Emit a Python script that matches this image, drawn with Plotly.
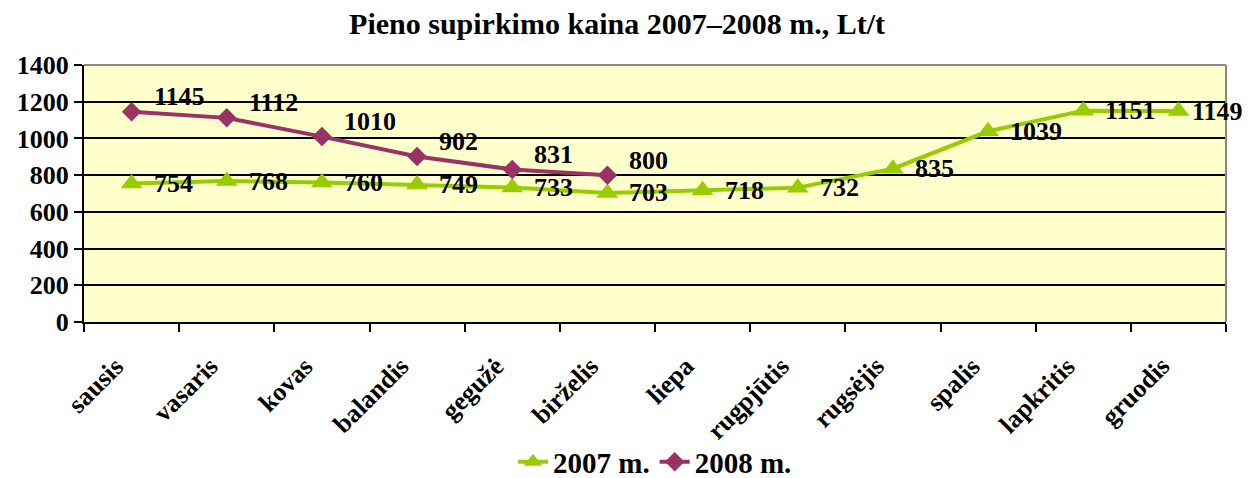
import plotly.graph_objects as go

months = ["sausis", "vasaris", "kovas", "balandis", "gegužė", "birželis",
          "liepa", "rugpjūtis", "rugsėjis", "spalis", "lapkritis", "gruodis"]
y2007 = [754, 768, 760, 749, 733, 703, 718, 732, 835, 1039, 1151, 1149]
y2008 = [1145, 1112, 1010, 902, 831, 800]
yticks = [0, 200, 400, 600, 800, 1000, 1200, 1400]

FONT = "Liberation Serif"
GREEN = "#99CC00"
PURPLE = "#993366"
LBL = dict(family=FONT, size=26, color="black", weight="bold")

fig = go.Figure()
fig.add_trace(go.Scatter(
    x=months, y=y2007, name="2007 m.", mode="lines+markers",
    line=dict(color=GREEN, width=4),
    marker=dict(symbol="triangle-up", size=19, color=GREEN),
    cliponaxis=False,
))
fig.add_trace(go.Scatter(
    x=months[:len(y2008)], y=y2008, name="2008 m.", mode="lines+markers",
    line=dict(color=PURPLE, width=4),
    marker=dict(symbol="diamond", size=15, color=PURPLE),
    cliponaxis=False,
))

annotations = []
for i, (m, v) in enumerate(zip(months, y2007)):
    annotations.append(dict(x=m, y=v, xref="x", yref="y", text=str(v),
                            showarrow=False, xanchor="left", yanchor="middle",
                            xshift=12 if i == len(months) - 1 else 20,
                            yshift=0, font=LBL))
for m, v in zip(months, y2008):
    annotations.append(dict(x=m, y=v, xref="x", yref="y", text=str(v),
                            showarrow=False, xanchor="left", yanchor="middle",
                            xshift=20, yshift=15, font=LBL))
for m in months:
    annotations.append(dict(x=m, y=0, xref="x", yref="paper", text=m,
                            showarrow=False, xanchor="right", yanchor="top",
                            textangle=-45, xshift=0, yshift=-27,
                            font=dict(family=FONT, size=26, color="black", weight="bold")))

# page body has an 8px margin, so the figure is offset by (8, 8)
fig.update_layout(
    width=1248, height=470,
    margin=dict(l=76, r=30, t=57, b=156, autoexpand=False),
    paper_bgcolor="white", plot_bgcolor="#FFFFCC",
    font=dict(family=FONT, color="black"),
    title=dict(text="<b>Pieno supirkimo kaina 2007–2008 m., Lt/t</b>",
               x=0.488, xanchor="center", y=0.968, yanchor="middle",
               font=dict(family=FONT, size=30, color="black")),
    showlegend=True,
    legend=dict(orientation="h", x=0.50, xanchor="center",
                yref="container", y=0.034, yanchor="middle",
                font=dict(family=FONT, size=29, color="black", weight="bold"),
                tracegroupgap=0),
    annotations=annotations,
    shapes=[
        dict(type="line", xref="paper", yref="paper", x0=0, x1=1, y0=1, y1=1,
             line=dict(color="#888888", width=2)),
        dict(type="line", xref="paper", yref="paper", x0=1, x1=1, y0=0, y1=1,
             line=dict(color="#888888", width=2)),
    ],
)
fig.update_xaxes(
    type="category", categoryorder="array", categoryarray=months,
    range=[-0.5, len(months) - 0.5],
    automargin=False, showticklabels=False,
    showline=True, linecolor="black", linewidth=2,
    ticks="outside", tickson="boundaries", ticklen=8, tickwidth=2, tickcolor="black",
    showgrid=False, zeroline=False,
)
fig.update_yaxes(
    range=[0, 1400], tickvals=yticks, ticktext=[str(v) for v in yticks],
    automargin=False,
    showline=True, linecolor="black", linewidth=2,
    ticks="outside", ticklen=8, tickwidth=2, tickcolor="black",
    tickfont=dict(family=FONT, size=26, color="black", weight="bold"),
    showgrid=True, gridcolor="black", gridwidth=2, zeroline=False,
)

fig.write_html("out.html")
